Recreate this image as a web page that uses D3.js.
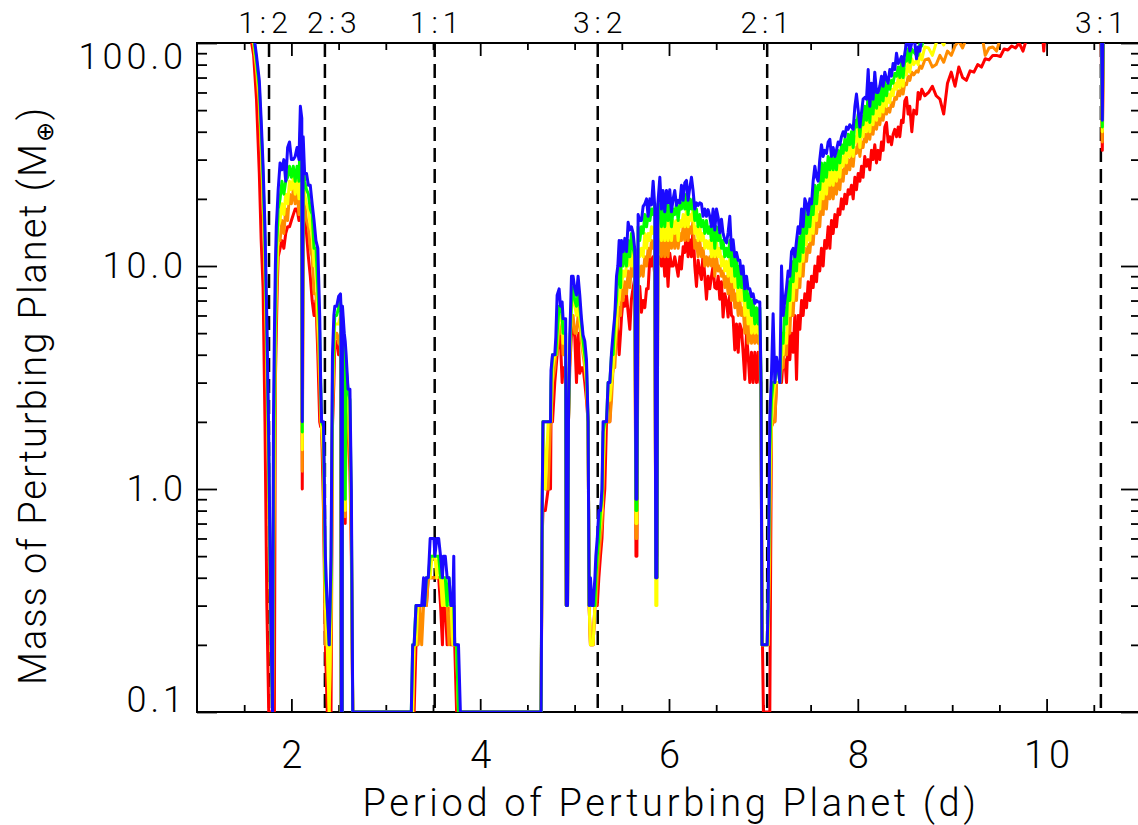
<!DOCTYPE html>
<html>
<head>
<meta charset="utf-8">
<script src="https://cdn.jsdelivr.net/npm/d3@7"></script>
<style>
html, body { margin: 0; padding: 0; background: #ffffff; }
svg { display: block; }
</style>
</head>
<body>
<svg id="chart" width="1138" height="825"></svg>
<script>
// ---------------- DATA ----------------
// Period of perturbing planet (days), shared by all five series
const periods = [
  1.50,1.55,1.60,1.63,1.66,1.68,1.70,1.72,1.74,1.76,1.78,1.80,
  1.81,1.82,1.83,1.84,1.85,1.86,1.88,1.90,1.92,1.94,1.96,1.98,2.00,2.02,2.04,2.06,2.08,2.095,2.11,2.115,2.125,2.14,2.16,2.18,2.20,2.22,2.24,2.26,2.28,2.30,2.31,2.32,2.34,2.36,2.38,2.40,
  2.42,2.435,2.45,2.46,2.48,2.50,2.52,2.525,2.528,2.538,2.541,2.56,2.57,2.58,2.60,2.62,2.635,2.65,2.70,3.00,
  3.27,3.285,3.30,3.32,3.34,3.36,3.38,3.40,3.41,3.43,3.45,3.47,3.49,3.51,3.52,3.54,3.56,3.58,3.60,3.61,3.63,3.65,3.67,3.69,3.71,3.72,3.73,3.75,3.77,3.79,4.20,4.645,
  4.656,4.665,4.69,4.72,4.745,4.75,4.766,4.79,4.801,4.815, 4.836,4.851,4.868,4.878,4.905,4.912,4.925,4.935,4.949,4.967, 4.984,5.002,5.02,5.037,5.055,5.073,5.09,5.108,5.126,5.143, 5.154,5.168,5.185,5.196,5.215,5.225,5.24,5.257,5.274,5.29, 5.302,5.32,5.338,5.355,
  5.373,5.391,5.408,5.426,5.444,5.458,5.472,5.487,5.497,5.514,
  5.532,5.55,5.567,5.585,5.602,5.62,5.638,5.65,5.66,5.673,
  5.69,5.708,5.726,5.744,5.762,5.779,5.797,5.815,5.832,5.85,
  5.86,5.872,5.882,5.903,5.92,5.937,5.955,5.973,5.99,6.008,
  6.026,6.044,6.061,6.079,6.097,6.115,6.132,6.15,6.167,6.185,
  6.202,6.22,6.238,6.255,6.273,6.291,6.308,6.326,6.344,6.361,
  6.379,6.397,6.414,6.432,6.45,6.467,6.485,6.503,6.521,6.538,
  6.556,6.573,6.591,6.609,6.626,6.644,6.662,6.679,6.697,6.715,
  6.733,6.75,6.768,6.785,6.803,6.821,6.838,6.856,6.874,6.891,
  6.909,6.927,6.944,6.962,6.975,6.985,7.00,7.02,7.04,7.05,
  7.068,7.085,7.103,7.121,7.139,7.156,7.174,7.192,7.209,7.227,
  7.245,7.262,7.28,7.298,7.315,7.333,7.351,7.368,7.386,7.404,
  7.421,7.439,7.457,7.474,7.492,7.51,7.527,7.545,7.563,7.58,
  7.597,7.615,7.633,7.65,7.668,7.686,7.704,7.721,7.739,7.757,
  7.774,7.792,7.81,7.827,7.845,7.863,7.88,7.898,7.915,7.933,
  7.951,7.969,7.986,8.004,8.022,8.04,8.056,8.074,8.092,8.11,
  8.127,8.145,8.162,8.18,8.198,8.215,8.233,8.251,8.268,8.286,
  8.304,8.321,8.339,8.357,8.374,8.392,8.41,8.428,8.445,8.463,
  8.48,8.498,8.516,8.533,8.551,8.572,8.593,8.622,8.639,8.657,
  8.678,8.71,
  8.75,8.79,8.83,8.87,8.91,8.95,8.99,9.03,9.07,9.11, 9.15,9.19,9.23,9.27,9.31,9.35,9.39,9.43,9.47,9.51, 9.55,9.59,9.63,9.67,9.71,9.75,9.79,9.83,9.87,9.91, 9.95,9.97,9.99,10.05,10.15,10.25,10.35,10.45,10.55,10.575, 10.59,10.605,11.0
];

// Mass of perturbing planet (Earth masses), one array per curve
const massBlue = [
  180,150,110,88,68,45,28,15,5.7,1.7,0.3,0.1,
  2,5,10,15,18,22,29,27,30,24,34,36,30,30,31,34,30,52,46,2,38,26,26,23,23,19,16,13,12,6,3,2,2,0.5,0.3,0.2,
  0.5,4,6,6.6,6.6,7.3,7.5,6.6,0.1,0.1,6.6,5,4.6,4,2.8,2.8,1,0.1,0.1,0.1,
  0.1,0.2,0.2,0.3,0.3,0.3,0.3,0.4,0.3,0.4,0.4,0.6,0.6,0.6,0.5,0.6,0.6,0.5,0.4,0.5,0.5,0.4,0.4,0.3,0.3,0.5,0.2,0.2,0.2,0.1,0.1,0.1,
  0.8,2,2,2,2,3.4,4,4,4.8,7.4, 7.9,6.6,6.9,5.8,5.8,0.3,0.3,2,4.8,9, 9,7.9,7.4,9,7.4,5.8,4.9,4.6,3.8,2, 0.3,0.4,0.3,0.3,0.4,0.5,0.6,0.8,0.8,1, 2,2,2,3,
  3,4.1,5,6,9,10,13,10,13,11.6,
  13.3,11.6,15.7,14.5,15,14,11.8,0.9,0.9,17,
  16,16,18.5,19,20,16.7,20,18.8,24,18.3,
  0.4,0.4,19,25,18,21.8,17.5,21.8,19.2,22,
  17.5,20,21.8,18.7,19.7,19.2,23,19.7,23.6,24.2,
  19.7,22.4,25,21.8,18,19.2,18.7,19.2,19,16.7,
  18,16.7,17.9,16.7,15,18,14.5,18,16.5,14.1,
  16.2,14,13.1,12.7,14.1,16.7,11.8,13.1,11,11.5,
  10.6,10.6,9.2,10,7.9,9,7.9,7.9,7.3,7.5,
  6.8,7,6.9,6.9,3,0.2,0.2,0.2,0.2,0.3,
  2.1,3.2,6.1,3,3.9,3.5,3,10,6,7,
  8,9.5,9,11.6,12,11,13,15,14,18,
  15,20,19,17,20,19,24,28,25,24,
  30,35,31,33,32,36,37,31,34,31,
  33,36,35,38,40,38,42,41,43,42,
  41,52,59,50,42,49,56,57,56,76,
  52,66,56,74,60,60,64,71,64,74,
  69,66,76,71,81,76,90,81,83,87,
  79,90,100,105,92,100,110,85,96,92,
  105,110,
  130,125,135,140,140,150,150,155,160,160, 165,170,170,175,180,180,185,190,190,195, 200,200,205,210,210,215,215,220,220,225, 225,230,230,230,235,240,245,250,250,250, 45,250,260
];
const massGreen = [
  175,145,106,84,63,41,25,13,4.8,1.4,0.3,0.1,
  1,3,7,12,14,18,20,24,21,24,25,28,25,28,24,28,24,40,33,1.8,30,24,22,21,18,17,12,12,8,5,3,2,1.9,0.4,0.3,0.2,
  0.4,3,5,6,6,6.5,7,6,0.1,0.1,6,4.6,0.9,3.5,2.8,2.5,0.8,0.1,0.1,0.1,
  0.1,0.2,0.2,0.3,0.3,0.3,0.3,0.3,0.3,0.4,0.4,0.5,0.5,0.5,0.5,0.5,0.5,0.4,0.4,0.4,0.4,0.3,0.4,0.3,0.3,0.3,0.2,0.2,0.1,0.1,0.1,0.1,
  0.8,2,2,2,2,3,4,4,4,5, 6.6,6.6,6,5,5,0.3,0.3,2,4.5,7, 8,7,6.6,7.5,6.6,5.5,4.6,4,3.5,2, 0.3,0.3,0.3,0.3,0.3,0.4,0.5,0.6,0.8,0.9, 1.8,2,2,3,
  3,4,4,6,7,9,10,8,12,10,
  12,10,13,11,14,12,11,0.8,0.8,15,
  13,15,14,17,15,17,16,18,17,19,
  0.4,0.4,17,19,15,19,15,19,16,19,
  15,18,17,19,16,19,18,20,18,21,
  17,20,18,20,16,18,15,17,15,16,
  14,16,14,15,13,16,12,15,13,14,
  12,13,11,12,11,13,10,12,9,11,
  8,10,8,9,7,8.5,6.5,7.5,6,7,
  5.5,6.5,5.5,6.5,3,0.2,0.2,0.2,0.2,0.3,
  1.5,2.5,3,3,3.5,3.5,3,5,4.5,6.5,
  5.5,8.5,7,10.5,8.5,11.5,9.5,13.5,10.5,15.5,
  11.5,18,14,17,15,19,17,23,19,23,
  22,29,24,29,25,31,27,31,27,31,
  27,33,29,35,32,37,33,39,35,40,
  34,45,42,48,38,47,43,52,45,60,
  44,59,48,64,51,59,53,65,55,68,
  58,65,62,68,66,73,71,78,70,82,
  70,84,83,94,82,94,91,88,88,99,
  97,108,
  110,115,120,125,130,135,140,140,145,150, 150,155,160,160,165,170,170,175,175,180, 185,185,190,195,195,200,200,205,205,210, 210,210,215,215,220,225,230,235,235,235, 42,235,245
];
const massYellow = [
  170,140,102,80,58,37,22,11,4,1.1,0.3,0.1,
  0.5,2,5,9,11,15,16,19,17,21,19,24,22,25,21,25,20,30,27,1.5,26,21,19,18,15,14,10,10,6,4,2.5,1.9,1.5,0.3,0.2,0.1,
  0.3,2.5,4.5,5.5,5.5,5.5,6,5,0.1,0.1,5.5,4,0.8,3,2.5,2,0.7,0.1,0.1,0.1,
  0.1,0.1,0.2,0.2,0.3,0.3,0.3,0.3,0.3,0.4,0.4,0.4,0.5,0.5,0.5,0.4,0.5,0.4,0.3,0.4,0.3,0.3,0.3,0.3,0.2,0.3,0.2,0.2,0.1,0.1,0.1,0.1,
  0.8,2,1,2,2,2,3.5,4,4,4.6, 6,6,5.5,4.5,4.5,0.3,0.3,2,4,6.6, 7,6.6,6,6.5,5.8,5,4.2,3.8,3,2, 0.3,0.2,0.2,0.2,0.3,0.4,0.5,0.6,0.7,0.8, 1.2,2,2,2.5,
  2.5,3,3.5,4.5,5.5,7,7,8.5,8,9.5,
  9,10,10,11,10,12,9,0.7,0.7,12,
  11,12,11,14,12,14,13,15,14,15,
  0.3,0.3,13,16,13,16,13,16,13,16,
  13,16,14,16,13,16,15,17,15,18,
  15,17,16,18,14,15,13,15,13,14,
  12,13,12,13,11,13,11,13,11,12,
  10,11,9.5,10.5,9,11,8.5,10,8,9,
  7,8.5,7,8,6,7.5,5.5,6.5,5,6,
  5,5.5,5,5.5,3,0.2,0.2,0.2,0.2,0.2,
  1,2,2.5,3,3,3,3,4,4,5,
  4.5,7,6,8.5,7,9.5,8,11,9,12.5,
  10.5,14.5,12.5,15,13,17,14,19,16,20.5,
  18,24,20,25,21,27,23,28,23,28,
  24,29,25,31,28,33,29,34,31,36,
  31,38,36,43,34,42,38,46,40,51,
  40,51,43,55,45,54,47,58,49,60,
  52,59,54,62,58,66,62,70,63,74,
  64,76,72,83,74,85,80,84,80,90,
  84,96,
  95,88,100,105,98,110,115,112,120,125, 125,130,135,140,140,145,150,150,155,160, 160,165,170,170,175,180,180,185,185,190, 190,190,195,195,200,205,210,215,215,215, 40,215,225
];
const massOrange = [
  165,135,98,75,52,33,19,9,3.2,0.8,0.2,0.1,
  0.3,1,4,7,9,13,13,16,14,18,16,21,19,22,19,22,17,25,22,1.2,23,19,16,15,12,11,7.5,7.5,5,3,2,1.9,1.2,0.2,0.2,0.1,
  0.2,2,4,5,5,4.5,5,4,0.1,0.1,5,3.5,0.75,2.8,2.2,1.5,0.6,0.1,0.1,0.1,
  0.1,0.1,0.2,0.2,0.2,0.3,0.2,0.3,0.3,0.3,0.4,0.4,0.4,0.4,0.4,0.4,0.4,0.4,0.3,0.3,0.3,0.3,0.2,0.3,0.2,0.2,0.2,0.2,0.1,0.1,0.1,0.1,
  0.7,1.5,1,1,2,2,3,3.5,4,4, 5.5,5,5,4,4,0.3,0.3,2,4,6, 6,5,5,6,5.5,4.5,4,3.5,3,2, 0.3,0.2,0.2,0.2,0.3,0.3,0.4,0.5,0.6,0.7, 1,2,2,2,
  2,2.5,3.5,3.5,5,5.5,6.5,6,8,7,
  8.5,7.5,9.5,8,10,9,9.5,0.6,0.6,10,
  9,10,9,11,10,12,11,13,12,13,
  0.4,0.4,11,14,11,14,11,14,11,14,
  12,14,12,14,12,14,13,15,13,16,
  13,15,14,16,12,13,11,13,11,12,
  10,11,10,11,10,12,9,11,9.5,10,
  9,9.5,8,9,7.5,9,7,8.5,6.5,7.5,
  6,7,6,6.5,5,6,4.5,5.5,4.5,5,
  4.5,5,4.5,5,2,0.2,0.2,0.2,0.2,0.2,
  0.5,1.9,2,2,3,3,3,3.5,3.5,4.5,
  4,6.5,5,7.5,6,8.5,7,9.5,8,11,
  9,12,10.5,12.5,11.5,14,12.5,16,14,17,
  15,20,17,22,18,23,20,24,20,24,
  21,26,22,27,24,29,26,30,27,31,
  28,34,32,36,31,36,34,39,36,42,
  37,43,39,46,41,46,43,49,45,51,
  48,51,49,54,52,57,56,61,58,64,
  59,66,65,71,68,74,72,75,74,79,
  77,84,
  85,78,80,88,82,92,88,97,102,95, 105,110,108,115,112,88,95,96,92,105, 125,120,125,130,130,135,135,140,140,145, 145,150,150,150,160,165,170,175,175,175, 36,175,185
];
const massRed = [
  160,120,88,56,26,13,8,2,0.3,0.1,0.1,0.1,
  0.1,0.1,3,5,8,11,12,13,12,14,15,15,16,17,18,18,16,18,17,1,16,17,14,11,9,7,6,7,4,2,1.9,1.9,0.8,0.2,0.1,0.1,
  0.1,1.9,3,4.6,4.6,4,4,3,0.1,0.1,4.6,3,0.7,2.5,2,1.2,0.5,0.1,0.1,0.1,
  0.1,0.1,0.1,0.2,0.2,0.3,0.3,0.3,0.3,0.3,0.4,0.4,0.4,0.4,0.4,0.4,0.4,0.3,0.2,0.3,0.3,0.2,0.3,0.2,0.2,0.2,0.2,0.1,0.1,0.1,0.1,0.1,
  0.6,0.8,0.8,1,1,2,2,3,3.4,4, 5,4.5,3,3.5,3.5,0.3,0.3,2,3.5,5, 5.5,4.8,3,5,3.3,3.5,3.5,3,2.5,2, 0.3,0.2,0.2,0.2,0.3,0.3,0.3,0.4,0.5,0.6, 0.8,1,2,2,
  2,3,3.5,4,5.9,5,4,5,5.9,7.1,
  6.6,7.4,6.2,5.2,7.1,8,8.8,0.5,0.5,8,
  8.1,6.2,7,6.5,7.9,7.9,11,10,11,9,
  0.5,0.5,10,11,10,11.9,9,11,8.1,11.4,
  10,10,11,10,9,11,9.7,12.2,11.5,14.6,
  11,13.1,11,15,10,8.1,10.6,9.5,8.7,11.5,
  9,7.1,9,7.9,9,10,8,7.9,9,7.1,
  8.5,5.9,7.5,7,5.9,7.5,6,5.9,4.2,5.5,
  4.1,5.5,5.2,4.1,3.1,5,4,3,4.1,3,
  4.1,3,4.1,3,3,0.3,0.1,0.1,0.1,0.1,
  0.1,1.9,2,2,3,3,3,3,3.8,3.8,
  3,5,3.8,5,4.1,6,3.1,6,5.2,7,
  6,7.5,6.5,8.5,7,9,8,10,8.5,11,
  9.5,12,10,13,12,15,12,16,14,17,
  15,18,17,20,18,21,19,22,21,23,
  20,25,22,26,24,28,25,31,28,30,
  27,33,30,35,29,33,30,36,33,42,
  44,36,38,35,39,41,38,42,38,45,
  44,55,57,48,52,40,50,48,60,56,
  62,58,
  60,64,58,56,48,66,74,64,78,70, 68,75,74,80,78,85,84,88,88,87, 94,93,97,95,100,92,105,110,112,115, 118,92,120,125,130,135,140,145,145,145, 33,145,155
];

// Resonances (period in days) and their labels
const resonancePeriods = [1.763, 2.355, 3.518, 5.245, 7.040, 10.575];
const resonanceLabels  = ["1:2", "2:3", "1:1", "3:2", "2:1", "3:1"];

// Axis ticks
const xMajorTicks = [2, 4, 6, 8, 10];
const xMinorTicks = [1.5, 2.5, 3, 3.5, 4.5, 5, 5.5, 6.5, 7, 7.5, 8.5, 9, 9.5, 10.5];
const yMajorTicks = [0.1, 1, 10, 100];
const yTickLabels = ["0.1", "1.0", "10.0", "100.0"];
const yMinorTicks = [0.2,0.3,0.4,0.5,0.6,0.7,0.8,0.9, 2,3,4,5,6,7,8,9, 20,30,40,50,60,70,80,90];

const seriesNames  = ["red", "orange", "yellow", "green", "blue"];
const seriesValues = [massRed, massOrange, massYellow, massGreen, massBlue];
const seriesColors = ["#ff0000", "#ff8c00", "#ffff00", "#00ff00", "#1a0aff"];

const xTitle = "Period of Perturbing Planet (d)";

// ---------------- DRAWING ----------------
const W = 1138, H = 825;
const L = 197, R = 1141, T = 43, B = 712;
const FONT = "Roboto, 'DejaVu Sans', sans-serif";

const x = d3.scaleLinear().domain([1, 11]).range([L, R]);
const y = d3.scaleLog().domain([0.1, 100]).range([B, T]);

const svg = d3.select("#chart");
svg.append("rect").attr("width", W).attr("height", H).attr("fill", "#ffffff");

function styleAxis(g) {
  g.select(".domain").remove();
  g.attr("font-family", null).attr("font-size", null);
  g.selectAll(".tick line").attr("stroke", "#000").attr("stroke-width", 1.8);
  g.selectAll("text").attr("font-family", FONT).attr("font-weight", 300).attr("fill", "#000");
}

// bottom axis
svg.append("g").attr("transform", `translate(0,${B})`)
  .call(d3.axisBottom(x).tickValues(xMajorTicks).tickSize(-13).tickPadding(29).tickFormat(d3.format("d")))
  .call(styleAxis)
  .call(g => g.selectAll("text").attr("font-size", 38).attr("letter-spacing", "4px").attr("dx", "2px"));
svg.append("g").attr("transform", `translate(0,${B})`)
  .call(d3.axisBottom(x).tickValues(xMinorTicks).tickSize(-7).tickFormat(""))
  .call(styleAxis);
// top axis
svg.append("g").attr("transform", `translate(0,${T})`)
  .call(d3.axisTop(x).tickValues(xMajorTicks).tickSize(-13).tickFormat(""))
  .call(styleAxis);
svg.append("g").attr("transform", `translate(0,${T})`)
  .call(d3.axisTop(x).tickValues(xMinorTicks).tickSize(-7).tickFormat(""))
  .call(styleAxis);
// left axis
svg.append("g").attr("transform", `translate(${L},0)`)
  .call(d3.axisLeft(y).tickValues(yMajorTicks).tickSize(-20).tickPadding(10)
        .tickFormat((d, i) => yTickLabels[i]))
  .call(styleAxis)
  .call(g => g.selectAll("text").attr("font-size", 36).attr("letter-spacing", "4px")
      .attr("dy", d => d === 100 ? "25px" : (d === 0.1 ? "-1px" : "11.5px")));
svg.append("g").attr("transform", `translate(${L},0)`)
  .call(d3.axisLeft(y).tickValues(yMinorTicks).tickSize(-10).tickFormat(""))
  .call(styleAxis);
// right axis
svg.append("g").attr("transform", `translate(${R},0)`)
  .call(d3.axisRight(y).tickValues(yMajorTicks).tickSize(-20).tickFormat(""))
  .call(styleAxis);
svg.append("g").attr("transform", `translate(${R},0)`)
  .call(d3.axisRight(y).tickValues(yMinorTicks).tickSize(-10).tickFormat(""))
  .call(styleAxis);

// frame
svg.append("rect").attr("x", L).attr("y", T).attr("width", R - L).attr("height", B - T)
  .attr("fill", "none").attr("stroke", "#000").attr("stroke-width", 2);

// resonance dashed lines + labels
const labelNudge = [-6, 7, 0, 0, -2, -1];
svg.append("g").selectAll("line").data(resonancePeriods).join("line")
  .attr("x1", d => x(d)).attr("x2", d => x(d))
  .attr("y1", T).attr("y2", B)
  .attr("stroke", "#000").attr("stroke-width", 2.5).attr("stroke-dasharray", "14,7");
svg.append("g").selectAll("text").data(resonancePeriods).join("text")
  .attr("x", (d, i) => x(d) + labelNudge[i]).attr("y", 33)
  .attr("dx", "2.5px")
  .attr("text-anchor", "middle")
  .attr("font-family", FONT).attr("font-weight", 300).attr("font-size", 30)
  .attr("letter-spacing", "5px")
  .text((d, i) => resonanceLabels[i]);

// data curves
svg.append("defs").append("clipPath").attr("id", "plotClip")
  .append("rect").attr("x", L).attr("y", T).attr("width", R - L).attr("height", B - T);

const line = d3.line().x(d => x(d.p)).y(d => y(d.m));
const curves = svg.append("g").attr("clip-path", "url(#plotClip)");
seriesValues.forEach((vals, k) => {
  const pts = periods.map((p, i) => ({ p: p, m: vals[i] })).filter(d => d.m !== undefined);
  curves.append("path").datum(pts)
    .attr("class", "curve-" + seriesNames[k])
    .attr("fill", "none")
    .attr("stroke", seriesColors[k])
    .attr("stroke-width", 3)
    .attr("stroke-linejoin", "round")
    .attr("d", line);
});

// axis titles
svg.append("text")
  .attr("x", (L + R) / 2).attr("y", 816)
  .attr("dx", "2px")
  .attr("text-anchor", "middle")
  .attr("font-family", FONT).attr("font-weight", 300).attr("font-size", 38)
  .attr("letter-spacing", "3.7px")
  .text(xTitle);

const yt = svg.append("text")
  .attr("transform", "translate(46,685) rotate(-90)")
  .attr("text-anchor", "start")
  .attr("font-family", FONT).attr("font-weight", 300).attr("font-size", 38)
  .attr("letter-spacing", "2px");
yt.append("tspan").text("Mass of Perturbing Planet (M");
yt.append("tspan").attr("font-size", 24).attr("dy", 7).attr("font-family", "'DejaVu Sans', sans-serif").attr("font-weight", 300).text("\u2295");
yt.append("tspan").attr("dy", -7).text(")");
</script>
</body>
</html>
